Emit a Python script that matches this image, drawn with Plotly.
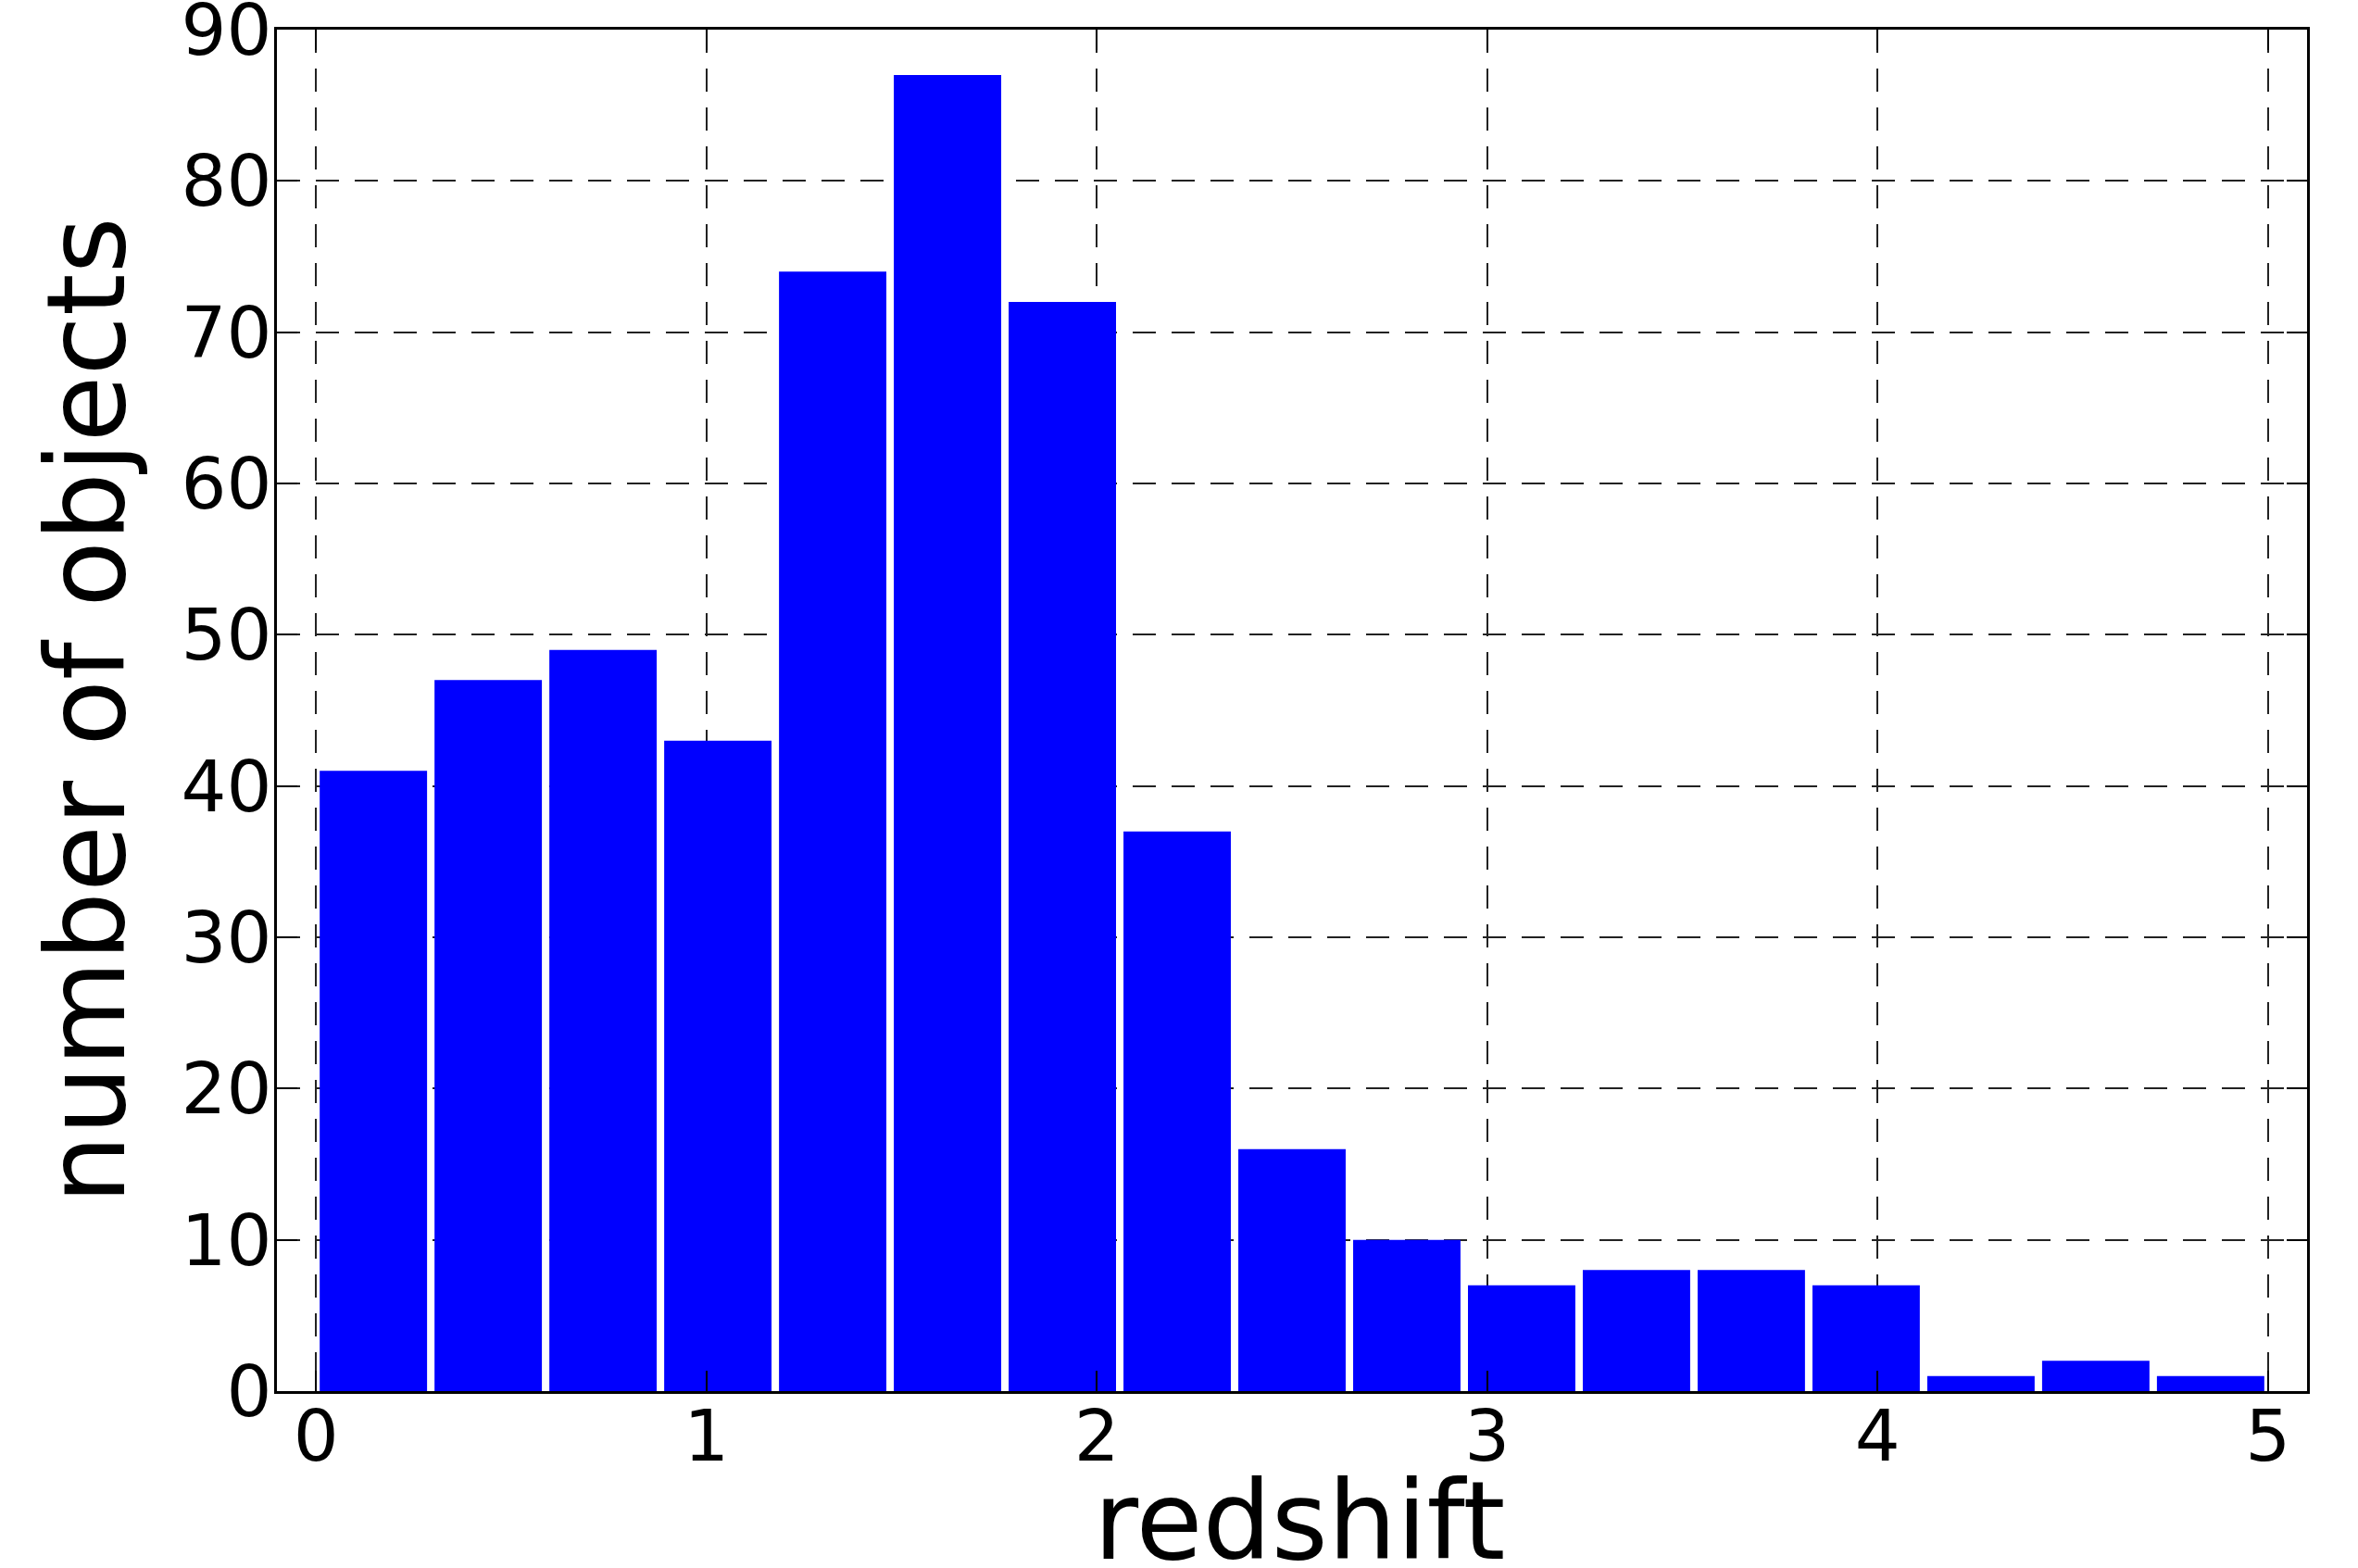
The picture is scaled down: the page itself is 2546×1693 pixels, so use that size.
import numpy as np
import plotly.graph_objects as go

# histogram of redshift values: 17 bins spanning 0 to 5
bin_lo = 0.0
bin_hi = 5.0
counts = [41, 47, 49, 43, 74, 87, 72, 37, 16, 10, 7, 8, 8, 7, 1, 2, 1]
x_ticks = [0, 1, 2, 3, 4, 5]
y_ticks = [0, 10, 20, 30, 40, 50, 60, 70, 80, 90]
x_title = "redshift"
y_title = "number of objects"

edges = np.linspace(bin_lo, bin_hi, len(counts) + 1)
centers = (edges[:-1] + edges[1:]) / 2
bw = edges[1] - edges[0]

fig = go.Figure()
fig.add_trace(go.Bar(
    x=centers, y=counts, width=[bw * 0.935] * len(counts),
    marker=dict(color="#0000ff", line=dict(width=0)),
))

font = "DejaVu Sans"
axis_common = dict(
    showline=True, linecolor="black", linewidth=3, mirror="ticks",
    ticks="inside", ticklen=22, tickwidth=2, tickcolor="black",
    showgrid=True, gridcolor="#222222", gridwidth=1.5, griddash="25px,17px",
    zeroline=False, automargin=False, ticklabeloverflow="allow",
    tickfont=dict(family=font, size=77, color="black"),
)

fig.update_layout(
    width=2546, height=1693,
    margin=dict(l=299, r=55, t=32, b=191),
    paper_bgcolor="white", plot_bgcolor="white",
    showlegend=False,
    xaxis=dict(range=[-0.1, 5.1], tickvals=x_ticks, ticktext=[str(v) for v in x_ticks],
               ticklabelstandoff=-20, **axis_common),
    yaxis=dict(range=[0, 90], tickvals=y_ticks, ticktext=[str(v) for v in y_ticks],
               ticklabelstandoff=-13,
               title=dict(text=y_title, font=dict(family=font, size=117, color="black"), standoff=22),
               **axis_common),
)

fig.add_annotation(
    text=x_title, xref="paper", yref="paper", x=0.5, y=0,
    xanchor="center", yanchor="top", xshift=8, yshift=-70, showarrow=False,
    font=dict(family=font, size=117, color="black"),
)

fig.write_html("out.html", config={"displayModeBar": False},
               post_script="document.body.style.margin='0';")
